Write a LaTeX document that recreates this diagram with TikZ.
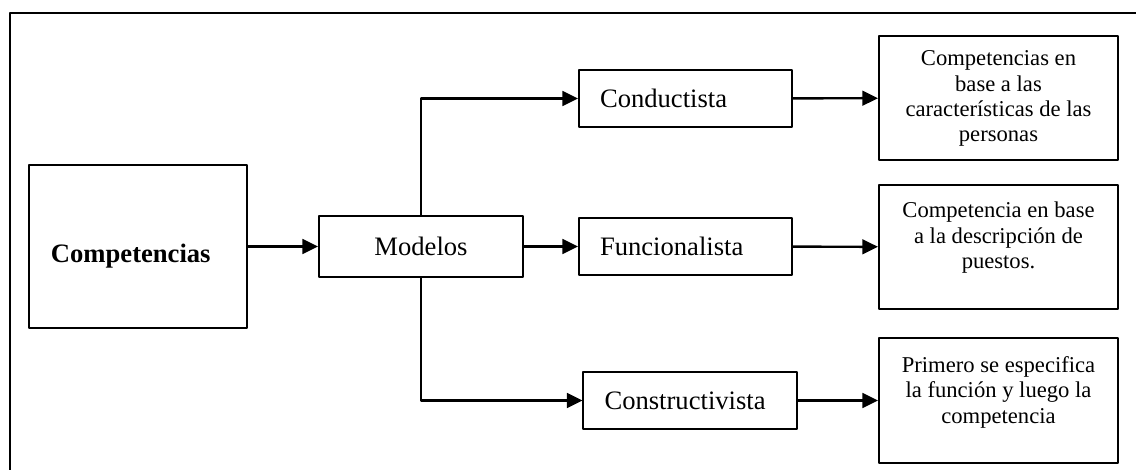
\documentclass[tikz,border=0pt]{standalone}
\usepackage{fontspec}
\setmainfont{Liberation Serif}
\usetikzlibrary{arrows.meta,positioning}
\begin{document}
\begin{tikzpicture}[x=0.451pt, y=-0.451pt, line join=round, >={Triangle[length=7pt,width=6.6pt]},
		box/.style={draw, line width=0.9pt, font=\fontsize{12}{14}\selectfont},
		modbox/.style={box, minimum width=96.1pt, minimum height=25.5pt, text width=77.1pt, align=left},
		infobox/.style={draw, line width=0.9pt, minimum width=107.8pt, minimum height=56pt},
		infotext/.style={anchor=north, inner sep=0pt, align=center, font=\fontsize{10.2}{11.4}\selectfont},
		link/.style={->, line width=1.1pt}]
	\useasboundingbox (0,0) rectangle (1136,470);
	% marco
	\draw[line width=0.9pt] (1136,13) -- (10,13) -- (10,470);
	% cajas
	\node[box, minimum width=98.3pt, minimum height=73.5pt, text width=78.5pt, text height=17pt, align=left] (comp) at (138,246.5) {\textbf{Competencias}};
	\node[box, minimum width=92pt, minimum height=27.5pt] (mod) at (421,246.5) {Modelos};
	\node[modbox] (cond) at (685.5,98.5) {Conductista};
	\node[modbox] (func) at (685.5,246.5) {Funcionalista};
	\node[modbox] (cons) at (690,400.5) {Constructivista};
	\node[infobox] (r1) at (998.5,98) {};
	\node[infobox] (r2) at (998.5,247) {};
	\node[infobox] (r3) at (998.5,400.5) {};
	\node[infotext, below=7pt of r1.north] (t1) {Competencias en\\base a las\\características de las\\personas};
	\node[infotext, below=8pt of r2.north] (t2) {Competencia en base\\a la descripción de\\puestos.};
	\node[infotext, below=8.5pt of r3.north] (t3) {Primero se especifica\\la función y luego la\\competencia};
	% flechas
	\draw[link] (comp) -- (mod);
	\draw[link] (mod.north) |- (cond.west);
	\draw[link] (mod) -- (func);
	\draw[link] (mod.south) |- (cons.west);
	\foreach \a/\b in {cond/r1, func/r2, cons/r3} \draw[link] (\a) -- (\b);
\end{tikzpicture}
\end{document}
